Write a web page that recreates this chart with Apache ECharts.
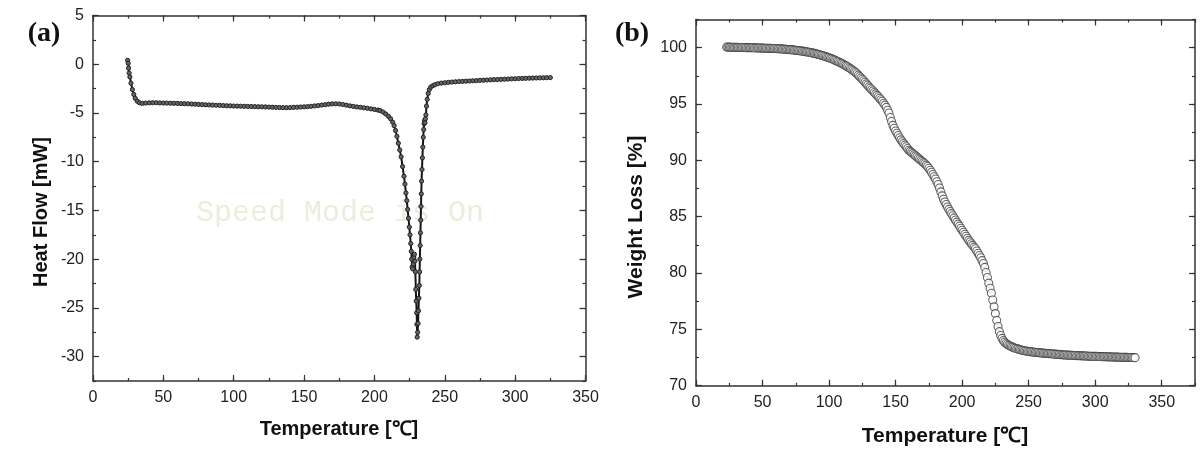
<!DOCTYPE html>
<html>
<head>
<meta charset="utf-8">
<script src="https://cdn.jsdelivr.net/npm/echarts@6/dist/echarts.min.js"></script>
<style>
html,body{margin:0;padding:0;background:#fff;}
#chart{width:1200px;height:453px;}
</style>
</head>
<body>
<div id="chart"></div>
<script>
// ---------- (a) DSC: Heat Flow vs Temperature ----------
const dscTemp = [
  24.6, 25.0, 25.3, 25.7, 26.2, 27.0, 28.0, 29.0, 30.0, 31.5, 33.0,
  35, 37.5, 40, 42.5, 45, 47.5, 50, 52.5, 55, 57.5, 60, 62.5, 65, 67.5, 70, 72.5, 75, 77.5, 80,
  82.5, 85, 87.5, 90, 92.5, 95, 97.5, 100, 102.5, 105, 107.5, 110, 112.5, 115, 117.5, 120,
  122.5, 125, 127.5, 130, 132.5, 135, 137.5, 140, 142.5, 145, 147.5, 150, 152.5, 155, 157.5,
  160, 162.5, 165, 167.5, 170, 172.5, 175, 177.5, 180, 182.5, 185, 187.5, 190, 192.5, 195,
  197.5, 200, 202.5,
  204, 206, 208, 210, 211.5, 213, 214, 215, 216, 217, 218, 219, 220, 221, 221.7, 222.4, 223,
  223.6, 224.2, 224.8, 225.3, 225.8, 226.2, 226.5, 226.8, 227.2, 227.6, 228, 228.4, 228.8,
  229.1, 229.4, 229.7, 230.0, 230.2, 230.4, 230.7, 231.0, 231.3, 231.6, 231.9, 232.1, 232.3,
  232.5, 232.7, 232.9, 233.1, 233.3, 233.5, 233.8, 234.1, 234.4, 234.7, 235.0, 235.3, 235.6,
  235.9, 236.2, 236.6, 237.0, 237.5, 238.2, 239, 240, 241.5, 243, 245,
  247.5, 250, 252.5, 255, 257.5, 260, 262.5, 265, 267.5, 270, 272.5, 275, 277.5, 280, 282.5,
  285, 287.5, 290, 292.5, 295, 297.5, 300, 302.5, 305, 307.5, 310, 312.5, 315, 317.5, 320,
  322.5, 325
];
const dscHeat = [
  0.4, 0.1, -0.4, -0.9, -1.3, -1.95, -2.6, -3.1, -3.5, -3.8, -3.95,
  -4.02, -3.98, -3.96, -3.95, -3.95, -3.97, -3.98, -3.99, -4.0, -4.01, -4.02, -4.04, -4.05, -4.06, -4.08, -4.1, -4.12, -4.14, -4.16,
  -4.18, -4.19, -4.21, -4.22, -4.24, -4.26, -4.27, -4.29, -4.3, -4.31, -4.32, -4.33, -4.34, -4.35, -4.36, -4.37,
  -4.38, -4.4, -4.41, -4.43, -4.44, -4.45, -4.46, -4.45, -4.43, -4.41, -4.39, -4.37, -4.35, -4.32, -4.28,
  -4.24, -4.19, -4.15, -4.1, -4.07, -4.06, -4.08, -4.13, -4.2, -4.27, -4.33, -4.38, -4.42, -4.47, -4.52,
  -4.58, -4.64, -4.7,
  -4.75, -4.9, -5.1, -5.35, -5.6, -5.95, -6.3, -6.8, -7.4, -8.1, -8.8, -9.5, -10.5, -11.5, -12.3, -13.2, -14.0,
  -14.9, -15.8, -16.7, -17.5, -18.4, -19.2, -20.0, -20.8, -21.0, -20.5, -19.8, -19.5, -20.2,
  -21.3, -23.1, -24.3, -25.5, -26.7, -28.0, -27.5, -26.6, -25.3, -24.0, -22.7, -21.3, -20.0,
  -18.6, -17.3, -16.0, -14.6, -13.3, -12.0, -10.8, -9.6, -8.5, -7.5, -6.7, -6.1, -5.8,
  -6.0, -5.6, -5.2, -4.3, -3.6, -3.0, -2.6, -2.35, -2.2, -2.1, -2.0,
  -1.94, -1.9, -1.86, -1.83, -1.8, -1.78, -1.76, -1.74, -1.72, -1.7, -1.68, -1.66, -1.64, -1.62, -1.6,
  -1.58, -1.57, -1.55, -1.54, -1.52, -1.5, -1.49, -1.47, -1.46, -1.45, -1.43, -1.42, -1.41, -1.4, -1.39,
  -1.38, -1.37
];

// ---------- (b) TGA: Weight Loss vs Temperature ----------
const tgaTemp = [
  23, 24, 25, 26, 27, 28, 29, 30, 31, 32,
  33, 34, 35, 36, 37, 38, 39, 40, 41, 42,
  43, 44, 45, 46, 47, 48, 49, 50, 51, 52,
  53, 54, 55, 56, 57, 58, 59, 60, 61, 62,
  63, 64, 65, 66, 67, 68, 69, 70, 71, 72,
  73, 74, 75, 76, 77, 78, 79, 80, 81, 82,
  83, 84, 85, 86, 87, 88, 89, 90, 91, 92,
  93, 94, 95, 96, 97, 98, 99, 100, 101, 102,
  103, 104, 105, 106, 107, 108, 109, 110, 111, 112,
  113, 114, 115, 116, 117, 118, 119, 120, 121, 122,
  123, 124, 125, 126, 127, 128, 129, 130, 131, 132,
  133, 134, 135, 136, 137, 138, 139, 140, 141, 142,
  143, 144, 145, 146, 147, 148, 149, 150, 151, 152,
  153, 154, 155, 156, 157, 158, 159, 160, 161, 162,
  163, 164, 165, 166, 167, 168, 169, 170, 171, 172,
  173, 174, 175, 176, 177, 178, 179, 180, 181, 182,
  183, 184, 185, 186, 187, 188, 189, 190, 191, 192,
  193, 194, 195, 196, 197, 198, 199, 200, 201, 202,
  203, 204, 205, 206, 207, 208, 209, 210, 211, 212,
  213, 214, 215, 216, 217, 218, 219, 220, 221, 222,
  223, 224, 225, 226, 227, 228, 229, 230, 231, 232,
  233, 234, 235, 236, 237, 238, 239, 240, 241, 242,
  243, 244, 245, 246, 247, 248, 249, 250, 251, 252,
  253, 254, 255, 256, 257, 258, 259, 260, 261, 262,
  263, 264, 265, 266, 267, 268, 269, 270, 271, 272,
  273, 274, 275, 276, 277, 278, 279, 280, 281, 282,
  283, 284, 285, 286, 287, 288, 289, 290, 291, 292,
  293, 294, 295, 296, 297, 298, 299, 300, 301, 302,
  303, 304, 305, 306, 307, 308, 309, 310, 311, 312,
  313, 314, 315, 316, 317, 318, 319, 320, 321, 322,
  323, 324, 325, 326, 327, 328, 329, 330
];
const tgaWeight = [
  100.05, 100.05, 100.05, 100.04, 100.04, 100.04, 100.03, 100.03, 100.03, 100.02,
  100.02, 100.02, 100.01, 100.01, 100.01, 100.00, 100.00, 100.00, 99.99, 99.99,
  99.99, 99.98, 99.98, 99.98, 99.97, 99.97, 99.96, 99.96, 99.96, 99.95,
  99.95, 99.94, 99.94, 99.94, 99.93, 99.93, 99.92, 99.92, 99.91, 99.90,
  99.90, 99.89, 99.88, 99.87, 99.86, 99.85, 99.84, 99.83, 99.82, 99.81,
  99.80, 99.78, 99.77, 99.75, 99.74, 99.72, 99.71, 99.69, 99.67, 99.65,
  99.63, 99.61, 99.59, 99.57, 99.54, 99.52, 99.49, 99.46, 99.43, 99.40,
  99.37, 99.33, 99.30, 99.26, 99.22, 99.18, 99.14, 99.10, 99.05, 99.01,
  98.96, 98.91, 98.86, 98.80, 98.75, 98.69, 98.63, 98.57, 98.50, 98.43,
  98.37, 98.30, 98.22, 98.14, 98.06, 97.98, 97.89, 97.80, 97.68, 97.56,
  97.44, 97.32, 97.20, 97.06, 96.93, 96.79, 96.66, 96.52, 96.40, 96.27,
  96.15, 96.02, 95.90, 95.77, 95.64, 95.51, 95.38, 95.25, 95.07, 94.90,
  94.70, 94.45, 94.20, 93.80, 93.45, 93.10, 92.85, 92.60, 92.40, 92.20,
  92.00, 91.82, 91.65, 91.50, 91.35, 91.20, 91.05, 90.90, 90.80, 90.70,
  90.60, 90.50, 90.40, 90.30, 90.20, 90.10, 90.00, 89.90, 89.80, 89.70,
  89.58, 89.45, 89.30, 89.12, 88.94, 88.75, 88.55, 88.35, 88.10, 87.85,
  87.55, 87.20, 86.85, 86.55, 86.30, 86.08, 85.86, 85.65, 85.46, 85.27,
  85.08, 84.89, 84.70, 84.52, 84.34, 84.16, 83.98, 83.80, 83.62, 83.44,
  83.26, 83.08, 82.90, 82.75, 82.60, 82.45, 82.30, 82.15, 81.95, 81.75,
  81.55, 81.35, 81.10, 80.85, 80.50, 80.05, 79.60, 79.10, 78.65, 78.20,
  77.60, 77.00, 76.40, 75.80, 75.25, 74.80, 74.45, 74.20, 74.00, 73.85,
  73.75, 73.65, 73.58, 73.52, 73.47, 73.42, 73.37, 73.33, 73.29, 73.26,
  73.22, 73.19, 73.15, 73.12, 73.10, 73.08, 73.06, 73.04, 73.02, 73.01,
  72.99, 72.97, 72.96, 72.95, 72.94, 72.92, 72.91, 72.90, 72.89, 72.88,
  72.87, 72.86, 72.85, 72.84, 72.83, 72.82, 72.81, 72.80, 72.79, 72.78,
  72.77, 72.76, 72.75, 72.74, 72.73, 72.72, 72.72, 72.71, 72.70, 72.70,
  72.69, 72.68, 72.68, 72.67, 72.67, 72.66, 72.66, 72.65, 72.65, 72.64,
  72.63, 72.63, 72.62, 72.62, 72.61, 72.61, 72.60, 72.60, 72.60, 72.59,
  72.59, 72.58, 72.58, 72.58, 72.57, 72.57, 72.56, 72.56, 72.56, 72.55,
  72.55, 72.55, 72.54, 72.54, 72.54, 72.53, 72.53, 72.52, 72.52, 72.52,
  72.51, 72.51, 72.50, 72.50, 72.50, 72.50, 72.49, 72.49
];

// ---------- tick labels ----------
const xTicksA = [0, 50, 100, 150, 200, 250, 300, 350];
const yTicksA = [-30, -25, -20, -15, -10, -5, 0, 5];
const xTicksB = [0, 50, 100, 150, 200, 250, 300, 350];
const yTicksB = [70, 75, 80, 85, 90, 95, 100];

const AXIS_COLOR = '#333';
const FONT = '"Liberation Sans", Arial, sans-serif';

function axisSet(gridIndex, min, max, minorStep, majors, posMain, posOpp) {
  const line = { show: true, onZero: false, lineStyle: { color: AXIS_COLOR, width: 1.5 } };
  const noLine = { show: false, onZero: false };
  const base = { type: 'value', gridIndex, min, max, interval: minorStep, splitLine: { show: false } };
  const major = { show: true, inside: true, length: 6, customValues: majors, lineStyle: { color: AXIS_COLOR, width: 1.2 } };
  const minor = { show: true, inside: true, length: 3, lineStyle: { color: AXIS_COLOR, width: 1.2 } };
  return [
    Object.assign({}, base, {
      position: posMain, axisLine: line, axisTick: major,
      axisLabel: { show: true, customValues: majors, margin: 9, fontSize: 16, color: '#222', fontFamily: FONT }
    }),
    Object.assign({}, base, { position: posMain, axisLine: noLine, axisTick: minor, axisLabel: { show: false } }),
    Object.assign({}, base, { position: posOpp, axisLine: line, axisTick: major, axisLabel: { show: false } }),
    Object.assign({}, base, { position: posOpp, axisLine: noLine, axisTick: minor, axisLabel: { show: false } })
  ];
}

const xAxes = [].concat(
  axisSet(0, 0, 350, 25, xTicksA, 'bottom', 'top'),
  axisSet(1, 0, 375, 25, xTicksB, 'bottom', 'top')
);
const yAxes = [].concat(
  axisSet(0, -32.5, 5, 2.5, yTicksA, 'left', 'right'),
  axisSet(1, 70, 102.5, 2.5, yTicksB, 'left', 'right')
);

const dscData = dscTemp.map((t, i) => [t, dscHeat[i]]);
const tgaData = tgaTemp.map((t, i) => [t, tgaWeight[i]]);

const chart = echarts.init(document.getElementById('chart'), null, { renderer: 'canvas' });
chart.setOption({
  animation: false,
  backgroundColor: '#fff',
  grid: [
    { left: 93, right: 614.5, top: 15.5, bottom: 72, containLabel: false, outerBoundsMode: 'none' },
    { left: 696, right: 5, top: 19.5, bottom: 67.3, containLabel: false, outerBoundsMode: 'none' }
  ],
  xAxis: xAxes,
  yAxis: yAxes,
  graphic: [
    { type: 'text', x: 340, y: 213, z: 0, silent: true,
      style: { text: 'Speed Mode is On', font: '30px "Liberation Mono", "Courier New", monospace', fill: '#ededdc', align: 'center', verticalAlign: 'middle' } },
    { type: 'text', x: 44, y: 34, style: { text: '(a)', font: 'bold 28px "Liberation Serif", "Times New Roman", serif', fill: '#111', align: 'center', verticalAlign: 'middle' } },
    { type: 'text', x: 632, y: 34, style: { text: '(b)', font: 'bold 28px "Liberation Serif", "Times New Roman", serif', fill: '#111', align: 'center', verticalAlign: 'middle' } },
    { type: 'text', x: 41, y: 212, rotation: Math.PI / 2, style: { text: 'Heat Flow [mW]', font: 'bold 20px ' + FONT, fill: '#111', align: 'center', verticalAlign: 'middle' } },
    { type: 'text', x: 636, y: 217, rotation: Math.PI / 2, style: { text: 'Weight Loss [%]', font: 'bold 21px ' + FONT, fill: '#111', align: 'center', verticalAlign: 'middle' } },
    { type: 'text', x: 339, y: 429, style: { text: 'Temperature [℃]', font: 'bold 20px ' + FONT, fill: '#111', align: 'center', verticalAlign: 'middle' } },
    { type: 'text', x: 945, y: 436, style: { text: 'Temperature [℃]', font: 'bold 21px ' + FONT, fill: '#111', align: 'center', verticalAlign: 'middle' } }
  ],
  series: [
    {
      name: 'Heat Flow', type: 'line', xAxisIndex: 0, yAxisIndex: 0, z: 3,
      data: dscData, showAllSymbol: true, symbol: 'circle', symbolSize: 4.2,
      lineStyle: { color: '#151515', width: 2 },
      itemStyle: { color: '#666', borderColor: '#222', borderWidth: 1 }
    },
    {
      name: 'Weight Loss', type: 'scatter', xAxisIndex: 4, yAxisIndex: 4, z: 3,
      data: tgaData, symbol: 'circle', symbolSize: 8, large: false,
      itemStyle: { color: '#ffffff', borderColor: '#3e3e3e', borderWidth: 1.1 }
    }
  ]
});
</script>
</body>
</html>
